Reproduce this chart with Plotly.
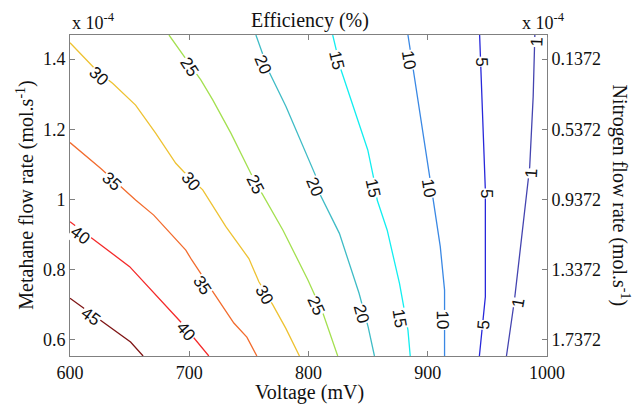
import plotly.graph_objects as go

# Efficiency contour levels (%) and their line colours
levels = [45, 40, 35, 30, 25, 20, 15, 10, 5, 1]
level_colors = ["#7f1515", "#f42a2a", "#f26c2e", "#eec232", "#a4e050",
                "#3fbcc6", "#12eef0", "#3a88e4", "#2828da", "#4444b0"]

# Each contour line: voltage (mV) vs methane flow rate (x 1e-4 mol/s)
voltage_45 = [600, 650.8, 661.3]
methane_45 = [0.718, 0.593, 0.553]
voltage_40 = [600, 650, 692.9, 716.4]
methane_40 = [0.936, 0.808, 0.650, 0.553]
voltage_35 = [600, 625.6, 655, 670.2, 697.1, 702.1, 718.9, 737.4, 748.3, 756.7]
methane_35 = [1.162, 1.089, 0.998, 0.955, 0.855, 0.827, 0.741, 0.647, 0.607, 0.553]
voltage_30 = [600, 623.1, 635.7, 649.2, 655, 671.8, 688.7, 695.4, 711.3, 730.7,
              750, 758.4, 770.2, 781.1, 792.4]
methane_30 = [1.447, 1.365, 1.331, 1.289, 1.269, 1.189, 1.103, 1.079, 1.027, 0.922,
              0.831, 0.765, 0.698, 0.631, 0.553]
voltage_25 = [683.0, 698.7, 709.7, 719.7, 734.9, 751.7, 756.7, 761.8, 778.6, 799.6,
              812.2, 824.5]
methane_25 = [1.469, 1.392, 1.341, 1.284, 1.189, 1.074, 1.041, 1.012, 0.912, 0.769,
              0.674, 0.553]
voltage_20 = [755.9, 766.8, 781.1, 806.3, 809.1, 825.9, 842.4, 850, 855.3]
methane_20 = [1.469, 1.365, 1.265, 1.065, 1.018, 0.903, 0.732, 0.636, 0.553]
voltage_15 = [820.3, 827.3, 849.7, 855.3, 857.6, 866.0, 876.3, 883.4, 885.3]
methane_15 = [1.469, 1.369, 1.141, 1.050, 0.998, 0.912, 0.760, 0.627, 0.553]
voltage_10 = [883.4, 887.6, 901.5, 904.4, 910.5, 914.1, 914.1]
methane_10 = [1.469, 1.378, 1.065, 1.003, 0.865, 0.741, 0.553]
voltage_5 = [943.5, 948.3, 948.3, 943.3]
methane_5 = [1.469, 1.027, 0.722, 0.553]
voltage_1 = [989.8, 988.4, 985.5, 982.8, 977.1, 972.7, 966.0]
methane_1 = [1.469, 1.293, 1.093, 1.010, 0.836, 0.712, 0.553]

line_voltage = [voltage_45, voltage_40, voltage_35, voltage_30, voltage_25,
                voltage_20, voltage_15, voltage_10, voltage_5, voltage_1]
line_methane = [methane_45, methane_40, methane_35, methane_30, methane_25,
                methane_20, methane_15, methane_10, methane_5, methane_1]

# Inline contour labels: level, voltage, methane, rotation
label_level = [45, 40, 40, 35, 35, 30, 30, 30, 25, 25, 25, 20, 20, 20,
               15, 15, 15, 10, 10, 10, 5, 5, 5, 1, 1, 1]
label_voltage = [617.2, 608.8, 697.1, 634.9, 711.1, 624.2, 701.3, 763.4,
                 699.8, 755.0, 806.3, 761.5, 804.9, 844.1,
                 823.1, 854.0, 876.3, 883.6, 900.8, 912.6,
                 945.0, 949.2, 946.6, 991.2, 987.0, 975.8]
label_methane = [0.665, 0.898, 0.622, 1.050, 0.755, 1.350, 1.050, 0.727,
                 1.379, 1.041, 0.698, 1.384, 1.036, 0.674,
                 1.398, 1.031, 0.660, 1.398, 1.031, 0.655,
                 1.393, 1.017, 0.641, 1.449, 1.074, 0.703]
label_angle = [36, 37, 50, 42, 57, 43, 50, 60, 57, 63, 66, 67, 67, 75,
               77, 78, 81, 81, 81, 89, 88, 90, -85, -88, -87, -80]

# Axis ranges and ticks
voltage_range = [600, 1000]
methane_range = [0.553, 1.469]
voltage_ticks = [600, 700, 800, 900, 1000]
methane_ticks = [0.6, 0.8, 1.0, 1.2, 1.4]
methane_ticktext = ["0.6", "0.8", "1", "1.2", "1.4"]
nitrogen_ticks = [0.1372, 0.5372, 0.9372, 1.3372, 1.7372]
nitrogen_total = 2.9372  # nitrogen = total - 2 * methane (x 1e-4)

AX = "#808080"
SERIF = "Liberation Serif"
SANS = "Liberation Sans"

fig = go.Figure()
for lvl, col, vx, my in zip(levels, level_colors, line_voltage, line_methane):
    fig.add_trace(go.Scatter(x=vx, y=my, mode="lines", name=f"{lvl}",
                             line=dict(color=col, width=1.3),
                             showlegend=False, hoverinfo="skip"))

# invisible trace to carry the nitrogen axis
fig.add_trace(go.Scatter(x=voltage_range,
                         y=[nitrogen_total - 2 * m for m in methane_range],
                         yaxis="y2", mode="lines", line=dict(width=0),
                         showlegend=False, hoverinfo="skip", opacity=0))

annotations = []
for lvl, vx, my, ang in zip(label_level, label_voltage, label_methane, label_angle):
    annotations.append(dict(x=vx, y=my, xref="x", yref="y", text=str(lvl),
                            textangle=ang, showarrow=False, bgcolor="white",
                            borderpad=0,
                            font=dict(family=SANS, size=17, color="#111")))

annotations += [
    dict(x=0.503, y=1.044, xref="paper", yref="paper", text="Efficiency (%)",
         showarrow=False, xanchor="center", yanchor="middle",
         font=dict(family=SERIF, size=20, color="#111")),
    dict(x=0.503, y=-0.115, xref="paper", yref="paper", text="Voltage (mV)",
         showarrow=False, xanchor="center", yanchor="middle",
         font=dict(family=SERIF, size=20, color="#111")),
    dict(x=-0.094, y=0.5, xref="paper", yref="paper",
         text="Metahane flow rate (mol.s<sup>-1</sup>)", textangle=-90,
         showarrow=False, xanchor="center", yanchor="middle",
         font=dict(family=SERIF, size=20, color="#111")),
    dict(x=1.155, y=0.5, xref="paper", yref="paper",
         text="Nitrogen flow rate (mol.s<sup>-1</sup>)", textangle=90,
         showarrow=False, xanchor="center", yanchor="middle",
         font=dict(family=SERIF, size=20, color="#111")),
    dict(x=0.0, y=1.0, xref="paper", yref="paper", text="x 10<sup>-4</sup>",
         showarrow=False, xanchor="left", yanchor="bottom",
         font=dict(family=SERIF, size=18, color="#111")),
    dict(x=0.944, y=1.0, xref="paper", yref="paper", text="x 10<sup>-4</sup>",
         showarrow=False, xanchor="left", yanchor="bottom",
         font=dict(family=SERIF, size=18, color="#111")),
]

fig.update_layout(
    width=635, height=405,
    margin=dict(l=70, r=88, t=35, b=49),
    paper_bgcolor="white", plot_bgcolor="white",
    annotations=annotations,
    xaxis=dict(range=voltage_range, tickvals=voltage_ticks,
               showline=True, linecolor=AX, linewidth=1, mirror="ticks",
               ticks="inside", ticklen=5, tickcolor=AX, showgrid=False,
               zeroline=False,
               tickfont=dict(family=SERIF, size=18, color="#111")),
    yaxis=dict(range=methane_range, tickvals=methane_ticks,
               ticktext=methane_ticktext,
               showline=True, linecolor=AX, linewidth=1,
               ticks="inside", ticklen=5, tickcolor=AX, showgrid=False,
               zeroline=False,
               tickfont=dict(family=SERIF, size=18, color="#111")),
    yaxis2=dict(overlaying="y", side="right",
                range=[nitrogen_total - 2 * methane_range[0],
                       nitrogen_total - 2 * methane_range[1]],
                tickvals=nitrogen_ticks,
                ticktext=[f"{v:.4f}" for v in nitrogen_ticks],
                showline=True, linecolor=AX, linewidth=1,
                ticks="inside", ticklen=5, tickcolor=AX, showgrid=False,
                zeroline=False,
                tickfont=dict(family=SERIF, size=18, color="#111")),
)

fig.write_html("out.html")
